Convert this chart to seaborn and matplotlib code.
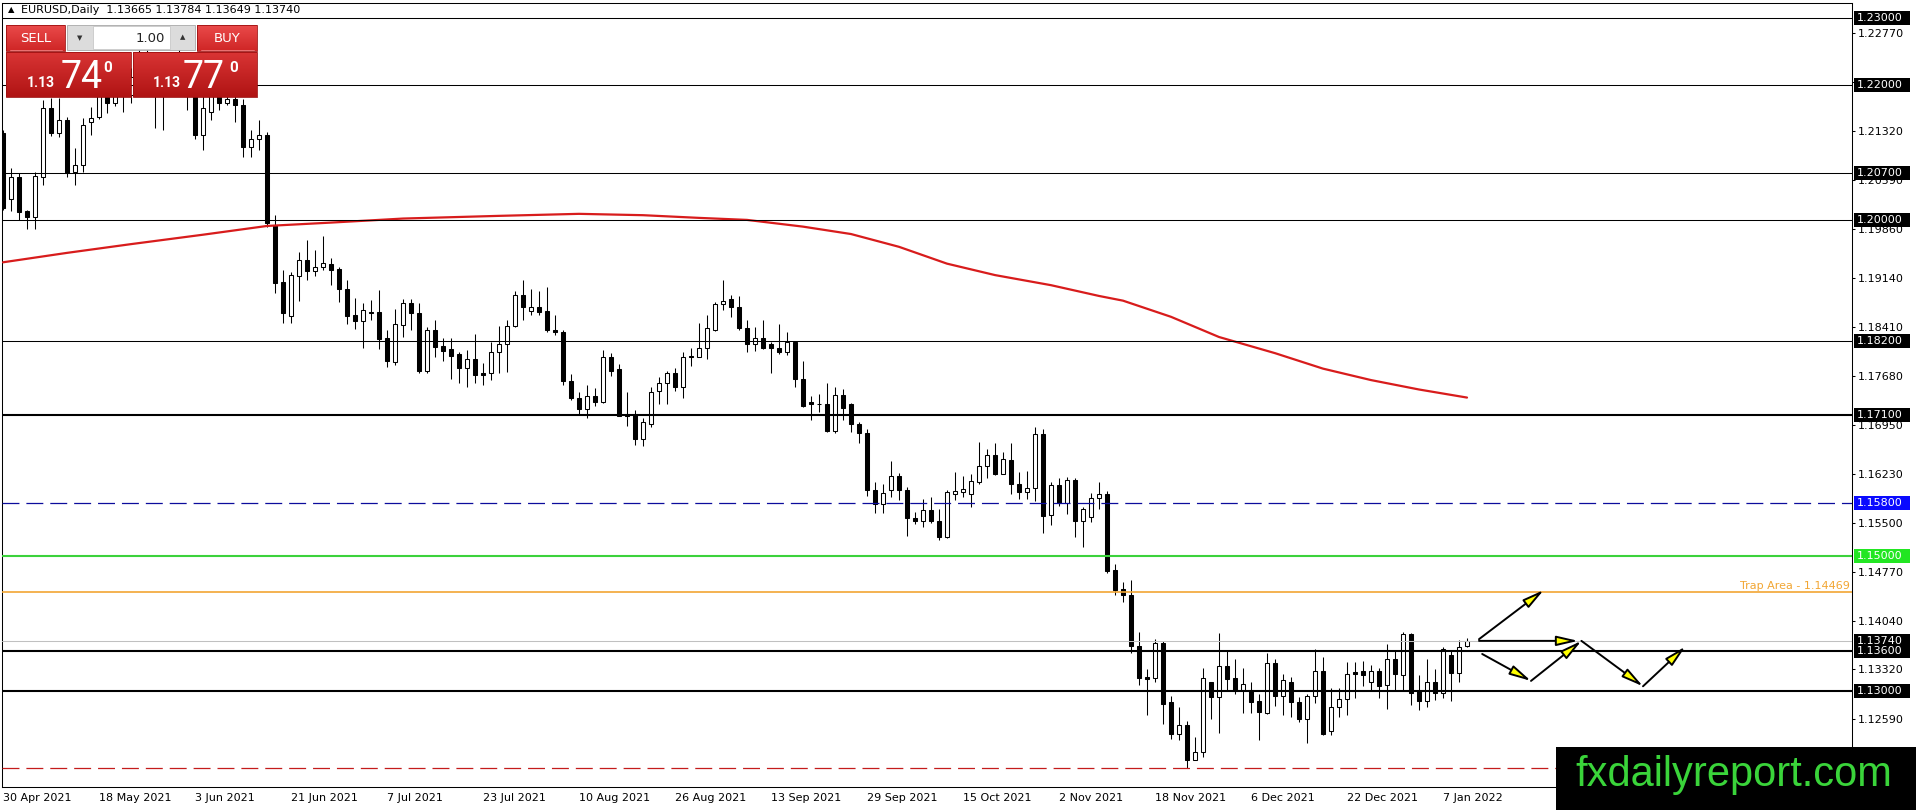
import matplotlib
matplotlib.use("Agg")
import matplotlib.pyplot as plt
import matplotlib.patches as mpatches
from matplotlib.colors import LinearSegmentedColormap
import numpy as np
import seaborn as sns

# EURUSD daily bars, 30 Apr 2021 .. 12 Jan 2022
opens = [
    1.2129, 1.2031, 1.2064, 1.2013, 1.2004, 1.2064, 1.2166, 1.2129, 1.2148, 1.2071,
    1.2082, 1.2145, 1.2153, 1.2222, 1.2174, 1.2225, 1.2185, 1.2213, 1.2250, 1.2193,
    1.2194, 1.2193, 1.2225, 1.2213, 1.2210, 1.2126, 1.2160, 1.2190, 1.2174, 1.2180,
    1.2171, 1.2108, 1.2120, 1.2126, 1.1993, 1.1908, 1.1857, 1.1917, 1.1940, 1.1924,
    1.1930, 1.1934, 1.1927, 1.1898, 1.1858, 1.1850, 1.1863, 1.1863, 1.1824, 1.1789,
    1.1844, 1.1877, 1.1861, 1.1776, 1.1836, 1.1813, 1.1808, 1.1800, 1.1780, 1.1794,
    1.1773, 1.1773, 1.1803, 1.1816, 1.1842, 1.1888, 1.1865, 1.1870, 1.1864, 1.1837,
    1.1834, 1.1760, 1.1736, 1.1719, 1.1738, 1.1730, 1.1796, 1.1778, 1.1711, 1.1712,
    1.1675, 1.1696, 1.1746, 1.1757, 1.1772, 1.1752, 1.1798, 1.1797, 1.1809, 1.1837,
    1.1875, 1.1882, 1.1870, 1.1840, 1.1816, 1.1825, 1.1815, 1.1810, 1.1803, 1.1818,
    1.1764, 1.1730, 1.1727, 1.1726, 1.1687, 1.1740, 1.1727, 1.1697, 1.1683, 1.1599,
    1.1578, 1.1599, 1.1620, 1.1599, 1.1557, 1.1552, 1.1569, 1.1552, 1.1529, 1.1593,
    1.1596, 1.1592, 1.1610, 1.1634, 1.1650, 1.1623, 1.1643, 1.1607, 1.1595, 1.1602,
    1.1682, 1.1562, 1.1606, 1.1579, 1.1613, 1.1553, 1.1559, 1.1587, 1.1593, 1.1480,
    1.1451, 1.1443, 1.1367, 1.1321, 1.1319, 1.1371, 1.1284, 1.1236, 1.1249, 1.1198,
    1.1209, 1.1313, 1.1291, 1.1337, 1.1319, 1.1301, 1.1302, 1.1285, 1.1268, 1.1342,
    1.1293, 1.1314, 1.1284, 1.1259, 1.1293, 1.1330, 1.1241, 1.1276, 1.1288, 1.1328,
    1.1329, 1.1314, 1.1329, 1.1309, 1.1347, 1.1324, 1.1385, 1.1300, 1.1285, 1.1313,
    1.1297, 1.1353, 1.1327, 1.13665,
]
highs = [
    1.2133, 1.2077, 1.2070, 1.2015, 1.2071, 1.2178, 1.2181, 1.2181, 1.2153, 1.2107,
    1.2151, 1.2168, 1.2245, 1.2228, 1.2234, 1.2243, 1.2226, 1.2266, 1.2262, 1.2210,
    1.2205, 1.2230, 1.2254, 1.2224, 1.2215, 1.2184, 1.2200, 1.2197, 1.2190, 1.2218,
    1.2180, 1.2134, 1.2148, 1.2130, 1.2007, 1.1925, 1.1923, 1.1953, 1.1970, 1.1956,
    1.1976, 1.1944, 1.1930, 1.1910, 1.1884, 1.1876, 1.1881, 1.1896, 1.1837, 1.1868,
    1.1882, 1.1882, 1.1876, 1.1841, 1.1852, 1.1825, 1.1825, 1.1804, 1.1806, 1.1831,
    1.1788, 1.1818, 1.1842, 1.1851, 1.1894, 1.1910, 1.1898, 1.1894, 1.1901, 1.1858,
    1.1837, 1.1771, 1.1744, 1.1754, 1.1750, 1.1806, 1.1802, 1.1786, 1.1745, 1.1718,
    1.1705, 1.1752, 1.1767, 1.1776, 1.1780, 1.1804, 1.1810, 1.1847, 1.1858, 1.1878,
    1.1910, 1.1888, 1.1887, 1.1852, 1.1841, 1.1852, 1.1819, 1.1846, 1.1834, 1.1820,
    1.1790, 1.1738, 1.1741, 1.1757, 1.1752, 1.1748, 1.1728, 1.1700, 1.1690, 1.1611,
    1.1608, 1.1642, 1.1624, 1.1603, 1.1566, 1.1586, 1.1588, 1.1571, 1.1599, 1.1626,
    1.1619, 1.1623, 1.1670, 1.1659, 1.1668, 1.1655, 1.1668, 1.1626, 1.1627, 1.1692,
    1.1690, 1.1611, 1.1616, 1.1618, 1.1616, 1.1574, 1.1594, 1.1611, 1.1597, 1.1488,
    1.1462, 1.1465, 1.1387, 1.1332, 1.1377, 1.1375, 1.1293, 1.1276, 1.1256, 1.1232,
    1.1334, 1.1314, 1.1386, 1.1361, 1.1348, 1.1334, 1.1314, 1.1296, 1.1357, 1.1347,
    1.1325, 1.1321, 1.1291, 1.1295, 1.1362, 1.1350, 1.1304, 1.1304, 1.1343, 1.1343,
    1.1345, 1.1338, 1.1334, 1.1370, 1.1361, 1.1387, 1.1386, 1.1324, 1.1347, 1.1332,
    1.1365, 1.1361, 1.1376, 1.13784,
]
lows = [
    1.2015, 1.2013, 1.2000, 1.1986, 1.1986, 1.2052, 1.2125, 1.2123, 1.2064, 1.2052,
    1.2071, 1.2126, 1.2150, 1.2159, 1.2169, 1.2160, 1.2174, 1.2210, 1.2185, 1.2136,
    1.2133, 1.2188, 1.2195, 1.2164, 1.2120, 1.2104, 1.2148, 1.2163, 1.2170, 1.2145,
    1.2093, 1.2093, 1.2104, 1.1990, 1.1891, 1.1847, 1.1847, 1.1879, 1.1910, 1.1916,
    1.1925, 1.1903, 1.1878, 1.1845, 1.1838, 1.1809, 1.1851, 1.1808, 1.1781, 1.1784,
    1.1826, 1.1836, 1.1772, 1.1773, 1.1796, 1.1791, 1.1764, 1.1757, 1.1752, 1.1758,
    1.1755, 1.1762, 1.1772, 1.1774, 1.1841, 1.1852, 1.1858, 1.1858, 1.1833, 1.1829,
    1.1754, 1.1733, 1.1712, 1.1706, 1.1723, 1.1728, 1.1768, 1.1708, 1.1694, 1.1665,
    1.1664, 1.1693, 1.1727, 1.1726, 1.1746, 1.1736, 1.1783, 1.1796, 1.1794, 1.1835,
    1.1866, 1.1856, 1.1837, 1.1803, 1.1805, 1.1808, 1.1772, 1.1801, 1.1799, 1.1751,
    1.1722, 1.1702, 1.1715, 1.1685, 1.1684, 1.1702, 1.1685, 1.1669, 1.1590, 1.1564,
    1.1564, 1.1589, 1.1584, 1.1530, 1.1548, 1.1543, 1.1549, 1.1524, 1.1528, 1.1584,
    1.1588, 1.1573, 1.1608, 1.1617, 1.1621, 1.1622, 1.1592, 1.1585, 1.1585, 1.1583,
    1.1535, 1.1546, 1.1575, 1.1563, 1.1529, 1.1514, 1.1551, 1.1570, 1.1475, 1.1443,
    1.1432, 1.1357, 1.1309, 1.1264, 1.1314, 1.1251, 1.1228, 1.1227, 1.1185, 1.1197,
    1.1202, 1.1259, 1.1237, 1.1302, 1.1296, 1.1267, 1.1267, 1.1227, 1.1266, 1.1278,
    1.1264, 1.1261, 1.1254, 1.1223, 1.1282, 1.1235, 1.1235, 1.1262, 1.1264, 1.1290,
    1.1307, 1.1302, 1.1289, 1.1273, 1.1301, 1.1302, 1.1279, 1.1272, 1.1276, 1.1286,
    1.1289, 1.1285, 1.1314, 1.13649,
]
closes = [
    1.2018, 1.2064, 1.2012, 1.2004, 1.2065, 1.2166, 1.2129, 1.2148, 1.2070, 1.2082,
    1.2141, 1.2151, 1.2222, 1.2174, 1.2225, 1.2185, 1.2213, 1.2250, 1.2193, 1.2194,
    1.2193, 1.2225, 1.2213, 1.2210, 1.2126, 1.2166, 1.2190, 1.2174, 1.2180, 1.2171,
    1.2108, 1.2120, 1.2126, 1.1995, 1.1906, 1.1861, 1.1918, 1.1940, 1.1924, 1.1930,
    1.1936, 1.1925, 1.1897, 1.1857, 1.1850, 1.1866, 1.1861, 1.1823, 1.1790, 1.1846,
    1.1877, 1.1861, 1.1775, 1.1836, 1.1811, 1.1805, 1.1798, 1.1780, 1.1794, 1.1770,
    1.1770, 1.1803, 1.1816, 1.1843, 1.1888, 1.1870, 1.1871, 1.1863, 1.1836, 1.1833,
    1.1760, 1.1736, 1.1719, 1.1738, 1.1730, 1.1796, 1.1776, 1.1709, 1.1709, 1.1675,
    1.1699, 1.1745, 1.1757, 1.1772, 1.1752, 1.1796, 1.1796, 1.1809, 1.1839, 1.1875,
    1.1879, 1.1870, 1.1840, 1.1816, 1.1825, 1.1810, 1.1810, 1.1803, 1.1818, 1.1764,
    1.1724, 1.1726, 1.1726, 1.1687, 1.1740, 1.1721, 1.1697, 1.1683, 1.1599, 1.1578,
    1.1594, 1.1620, 1.1599, 1.1557, 1.1552, 1.1569, 1.1552, 1.1529, 1.1596, 1.1597,
    1.1600, 1.1612, 1.1634, 1.1651, 1.1623, 1.1645, 1.1608, 1.1596, 1.1602, 1.1682,
    1.1560, 1.1606, 1.1579, 1.1613, 1.1553, 1.1570, 1.1587, 1.1593, 1.1479, 1.1450,
    1.1443, 1.1367, 1.1320, 1.1318, 1.1371, 1.1281, 1.1236, 1.1249, 1.1198, 1.1209,
    1.1319, 1.1291, 1.1337, 1.1318, 1.1300, 1.1311, 1.1284, 1.1269, 1.1342, 1.1293,
    1.1316, 1.1284, 1.1259, 1.1293, 1.1330, 1.1236, 1.1276, 1.1288, 1.1326, 1.1325,
    1.1324, 1.1329, 1.1307, 1.1347, 1.1325, 1.1385, 1.1297, 1.1285, 1.1313, 1.1297,
    1.1363, 1.1327, 1.1366, 1.13740,
]

# one date label every 12 bars
date_labels = ["30 Apr 2021", "18 May 2021", "3 Jun 2021", "21 Jun 2021",
               "7 Jul 2021", "23 Jul 2021", "10 Aug 2021", "26 Aug 2021",
               "13 Sep 2021", "29 Sep 2021", "15 Oct 2021", "2 Nov 2021",
               "18 Nov 2021", "6 Dec 2021", "22 Dec 2021", "7 Jan 2022"]
LABEL_EVERY = 12

# red moving average, sampled along the curve
ma_bars = [0, 8, 16, 25, 33, 41, 50, 62, 72, 80, 87, 93, 100, 106, 112, 118,
           124, 131, 137, 140, 146, 152, 159, 165, 171, 177, 183]
ma_values = [1.1937, 1.1951, 1.1964, 1.1978, 1.1991, 1.1996, 1.2002, 1.2006,
             1.2009, 1.2007, 1.2003, 1.2000, 1.1990, 1.1979, 1.1960, 1.1935,
             1.1918, 1.1903, 1.1887, 1.1880, 1.1856, 1.1826, 1.1802, 1.1779,
             1.1762, 1.1748, 1.1736]

price_ticks = [1.2277, 1.2205, 1.2132, 1.2059, 1.1986, 1.1914, 1.1841, 1.1768,
               1.1695, 1.1623, 1.1550, 1.1477, 1.1404, 1.1332, 1.1259, 1.1186]
price_tick_labels = ["1.22770", "1.22050", "1.21320", "1.20590", "1.19860",
                     "1.19140", "1.18410", "1.17680", "1.16950", "1.16230",
                     "1.15500", "1.14770", "1.14040", "1.13320", "1.12590",
                     "1.11860"]

# horizontal levels drawn on the chart
levels = [1.23, 1.22, 1.207, 1.20, 1.182, 1.171, 1.158, 1.15, 1.1374, 1.136, 1.13, 1.1186]
trap_level = 1.14469
trap_text = "Trap Area - 1.14469"

# projected path arrows (bar, price) -> (bar, price)
arrow_segments = [
    (184.5, 1.1377, 192.6, 1.1450),
    (184.5, 1.13745, 196.9, 1.13745),
    (197.3, 1.13745, 205.0, 1.1307),
    (205.0, 1.1307, 210.3, 1.1366),
    (184.9, 1.1355, 191.0, 1.1315),
    (191.0, 1.1315, 197.3, 1.13745),
]

header = "EURUSD,Daily  1.13665 1.13784 1.13649 1.13740"

# ---- styles ----
DASH = (0, (12.2, 5.0))
level_styles = [
    dict(color="black", lw=0.75, ls="-"),
    dict(color="black", lw=0.75, ls="-"),
    dict(color="black", lw=0.75, ls="-"),
    dict(color="black", lw=0.75, ls="-"),
    dict(color="black", lw=0.75, ls="-"),
    dict(color="black", lw=1.5, ls="-"),
    dict(color="#0c0c9c", lw=0.9, ls=DASH),
    dict(color="#3bd23b", lw=1.5, ls="-"),
    dict(color="#c0c0c0", lw=0.75, ls="-"),
    dict(color="black", lw=1.5, ls="-"),
    dict(color="black", lw=1.5, ls="-"),
    dict(color="#c41c1c", lw=0.9, ls=DASH),
]
label_bg = ["black", "black", "black", "black", "black", "black",
            "#0a0aff", "#22e622", "black", "black", "black", None]

sns.set_style("white")
plt.rcParams["font.family"] = ["DejaVu Sans"]
plt.rcParams["lines.scale_dashes"] = False

W, H = 1916, 810
fig = plt.figure(figsize=(W / 100, H / 100), dpi=100)
fig.patch.set_facecolor("white")
ax = fig.add_axes([2 / W, 23 / H, 1850 / W, 784 / H])

K = 0.1 / 673.0  # price per pixel
ax.set_ylim(1.23 - 769 * K, 1.23 + 15 * K)
ax.set_xlim(-0.125, 231.125)

n = len(opens)
x = np.arange(n)
o, h, l, c = map(np.array, (opens, highs, lows, closes))
up = c >= o
body = np.maximum(np.abs(c - o), 0.8 * K)
bottom = np.minimum(o, c)

ax.vlines(x, l, h, color="black", lw=0.75, zorder=3)
ax.bar(x[up], body[up], bottom=bottom[up], width=0.55, color="white",
       edgecolor="black", linewidth=0.75, zorder=4)
ax.bar(x[~up], body[~up], bottom=bottom[~up], width=0.55, color="black",
       edgecolor="black", linewidth=0.75, zorder=4)

sns.lineplot(x=ma_bars, y=ma_values, ax=ax, color="#d81c1c", lw=1.6, zorder=5)

for y, st in zip(levels, level_styles):
    ax.axhline(y, color=st["color"], lw=st["lw"], linestyle=st["ls"], zorder=6)
ax.axhline(trap_level, color="#f2a633", lw=1.2, zorder=6)
ax.text(230.9, trap_level + 1.2 * K, trap_text, ha="right", va="bottom",
        color="#f2a633", fontsize=8, zorder=7)

for x0, y0, x1, y1 in arrow_segments:
    ax.annotate("", xy=(x1, y1), xytext=(x0, y0), zorder=9,
                arrowprops=dict(arrowstyle="-|>,head_length=1.3,head_width=0.3",
                                fc="#ffff00", ec="black", lw=1.4,
                                shrinkA=0, shrinkB=0))

# axes frame and ticks
for sp in ax.spines.values():
    sp.set_visible(True)
    sp.set_color("black")
    sp.set_linewidth(0.75)
ax.yaxis.tick_right()
ax.set_yticks(price_ticks)
ax.set_yticklabels(price_tick_labels)
ax.set_xticks(np.arange(0, n, LABEL_EVERY))
ax.set_xticklabels(date_labels)
for lbl in ax.get_xticklabels():
    lbl.set_ha("left")
ax.tick_params(axis="y", direction="out", length=2.5, width=0.75, pad=2,
               labelsize=8, colors="black")
ax.tick_params(axis="x", direction="out", length=3, width=0.75, pad=1.2,
               labelsize=8, colors="black")
ax.set_xlabel("")
ax.set_ylabel("")
ax.grid(False)

# level price boxes on the price scale
trans = ax.get_yaxis_transform()
for y, bg in zip(levels, label_bg):
    if bg is None:
        continue
    ax.add_patch(mpatches.Rectangle((1 + 1.5 / 1850, y - 7 * K), 56 / 1850, 14 * K,
                                    transform=trans, facecolor=bg, edgecolor="none",
                                    clip_on=False, zorder=7))
    ax.text(1 + 5 / 1850, y, f"{y:.5f}", transform=trans, color="white",
            fontsize=8, ha="left", va="center", clip_on=False, zorder=8)

# ---- overlay in pixel coordinates: header, trade panel, logo ----
ov = fig.add_axes([0, 0, 1, 1])
ov.set_zorder(10)
ov.patch.set_alpha(0)


def grad_box(x0, y0, x1, y1, top, bot):
    g = np.linspace(0, 1, 32).reshape(-1, 1)
    cm = LinearSegmentedColormap.from_list("g", [top, bot])
    ov.imshow(g, cmap=cm, extent=(x0, x1, y1, y0), aspect="auto",
              interpolation="bilinear", zorder=2)
    ov.add_patch(mpatches.Rectangle((x0, y0), x1 - x0, y1 - y0, fill=False,
                                    edgecolor="#9e1010", lw=0.6, zorder=3))


ov.text(11, 10, "▲", fontsize=6, ha="center", va="center", color="black")
ov.text(21, 10, header, fontsize=8, ha="left", va="center", color="black")

# sell / buy buttons
grad_box(6, 25, 65, 51, "#ea4a4a", "#cf2626")
grad_box(197, 25, 257, 51, "#ea4a4a", "#cf2626")
ov.plot([10, 62], [50, 50], color="#f08080", lw=0.6, zorder=4)
ov.plot([201, 254], [50, 50], color="#f08080", lw=0.6, zorder=4)
ov.text(35.5, 38, "SELL", color="white", fontsize=9.5, ha="center", va="center", zorder=5)
ov.text(227, 38, "BUY", color="white", fontsize=9.5, ha="center", va="center", zorder=5)

# lot size spinner
ov.add_patch(mpatches.Rectangle((67, 25), 128, 25, facecolor="#dcdcdc",
                                edgecolor="#a8a8a8", lw=0.6, zorder=2))
ov.add_patch(mpatches.Rectangle((93, 26), 77, 23, facecolor="white",
                                edgecolor="#c8c8c8", lw=0.6, zorder=3))
ov.text(80, 38, "▼", fontsize=5, ha="center", va="center", color="#333333", zorder=5)
ov.text(183, 37, "▲", fontsize=5, ha="center", va="center", color="#333333", zorder=5)
ov.text(165, 38, "1.00", fontsize=9.5, ha="right", va="center", color="#222222", zorder=5)

# price boxes
grad_box(6, 52, 131, 97, "#d93434", "#b01414")
grad_box(133, 52, 257, 97, "#d93434", "#b01414")
big = ["Roboto", "DejaVu Sans"]
ov.text(41, 87, "1.13", color="white", fontsize=10, fontweight="bold",
        family=big, ha="center", va="baseline", zorder=5)
ov.text(81.5, 88, "74", color="white", fontsize=27, family=big,
        ha="center", va="baseline", zorder=5)
ov.text(107.5, 72, "0", color="white", fontsize=11, fontweight="bold",
        family=big, ha="center", va="baseline", zorder=5)
ov.text(167, 87, "1.13", color="white", fontsize=10, fontweight="bold",
        family=big, ha="center", va="baseline", zorder=5)
ov.text(204, 88, "77", color="white", fontsize=27, family=big,
        ha="center", va="baseline", zorder=5)
ov.text(234, 72, "0", color="white", fontsize=11, fontweight="bold",
        family=big, ha="center", va="baseline", zorder=5)

# site logo
ov.add_patch(mpatches.Rectangle((1556, 747), 360, 63, facecolor="black",
                                edgecolor="none", zorder=2))
ov.text(1734, 775, "fxdailyreport.com", color="#3ad43a", fontsize=30,
        family=["Liberation Sans", "DejaVu Sans"], ha="center", va="center", zorder=5)

ov.set_xlim(0, W)
ov.set_ylim(H, 0)
ov.axis("off")

fig.savefig("out.png", dpi=100, facecolor="white")
